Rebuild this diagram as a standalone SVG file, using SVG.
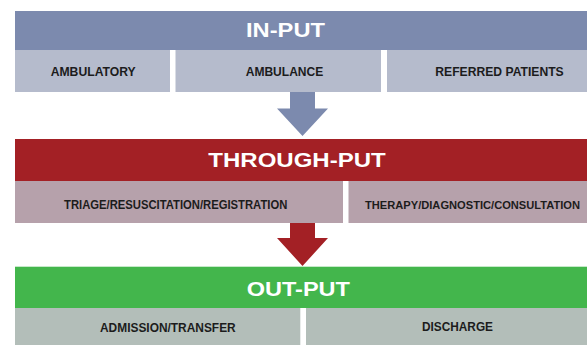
<svg xmlns="http://www.w3.org/2000/svg" width="587" height="345" viewBox="0 0 587 345">
<style>
.title{font-family:"Liberation Sans",Arial,sans-serif;font-weight:bold;font-size:20px;fill:#ffffff}
.lbl{font-family:"Liberation Sans",Arial,sans-serif;font-weight:bold;font-size:12px;fill:#1c1c1c}
.inband{fill:#7c8aae}.insub{fill:#b5bbcc}
.thband{fill:#a32025}.thsub{fill:#b6a1ab}
.outband{fill:#43b64c}.outsub{fill:#b3beb9}
</style>
<rect width="587" height="345" fill="#ffffff"/>
<g id="input">
<rect class="inband" x="15" y="11" width="572" height="39"/>
<text class="title" x="246" y="37.3" textLength="79" lengthAdjust="spacingAndGlyphs">IN-PUT</text>
</g>
<g id="ambulatory">
<rect class="insub" x="15" y="50" width="155" height="42"/>
<text class="lbl" x="50.7" y="76" textLength="85" lengthAdjust="spacingAndGlyphs">AMBULATORY</text>
</g>
<g id="ambulance">
<rect class="insub" x="175.5" y="50" width="205.5" height="42"/>
<text class="lbl" x="245.7" y="75.8" textLength="77.6" lengthAdjust="spacingAndGlyphs">AMBULANCE</text>
</g>
<g id="referred">
<rect class="insub" x="387" y="50" width="200" height="42"/>
<text class="lbl" x="435.3" y="76" textLength="128.4" lengthAdjust="spacingAndGlyphs">REFERRED PATIENTS</text>
</g>
<g id="throughput">
<rect class="thband" x="15" y="139" width="572" height="42"/>
<text class="title" x="208.3" y="167.3" textLength="177.4" lengthAdjust="spacingAndGlyphs">THROUGH-PUT</text>
</g>
<g id="triage">
<rect class="thsub" x="15" y="181" width="328" height="42"/>
<text class="lbl" x="64" y="208.5" textLength="223.3" lengthAdjust="spacingAndGlyphs">TRIAGE/RESUSCITATION/REGISTRATION</text>
</g>
<g id="therapy">
<rect class="thsub" x="348.5" y="181" width="238.5" height="42"/>
<text class="lbl" x="365" y="209" font-size="11" style="font-size:11px" textLength="215" lengthAdjust="spacingAndGlyphs">THERAPY/DIAGNOSTIC/CONSULTATION</text>
</g>
<g id="output">
<rect class="outband" x="15" y="266.7" width="572" height="41.3"/>
<text class="title" x="246.7" y="295.7" textLength="103.3" lengthAdjust="spacingAndGlyphs">OUT-PUT</text>
</g>
<g id="admission">
<rect class="outsub" x="15" y="308" width="285.3" height="37"/>
<text class="lbl" x="100" y="331.7" textLength="135.7" lengthAdjust="spacingAndGlyphs">ADMISSION/TRANSFER</text>
</g>
<g id="discharge">
<rect class="outsub" x="306" y="308" width="281" height="37"/>
<text class="lbl" x="422" y="331.3" textLength="71" lengthAdjust="spacingAndGlyphs">DISCHARGE</text>
</g>
<g id="connectors">
<polygon fill="#7c8aae" points="290,92 315,92 315,108.5 328,108.5 302.5,136 277,108.5 290,108.5"/>
<polygon fill="#a32025" points="290,223 315,223 315,238 328,238 302.5,266 277,238 290,238"/>
</g>
</svg>
